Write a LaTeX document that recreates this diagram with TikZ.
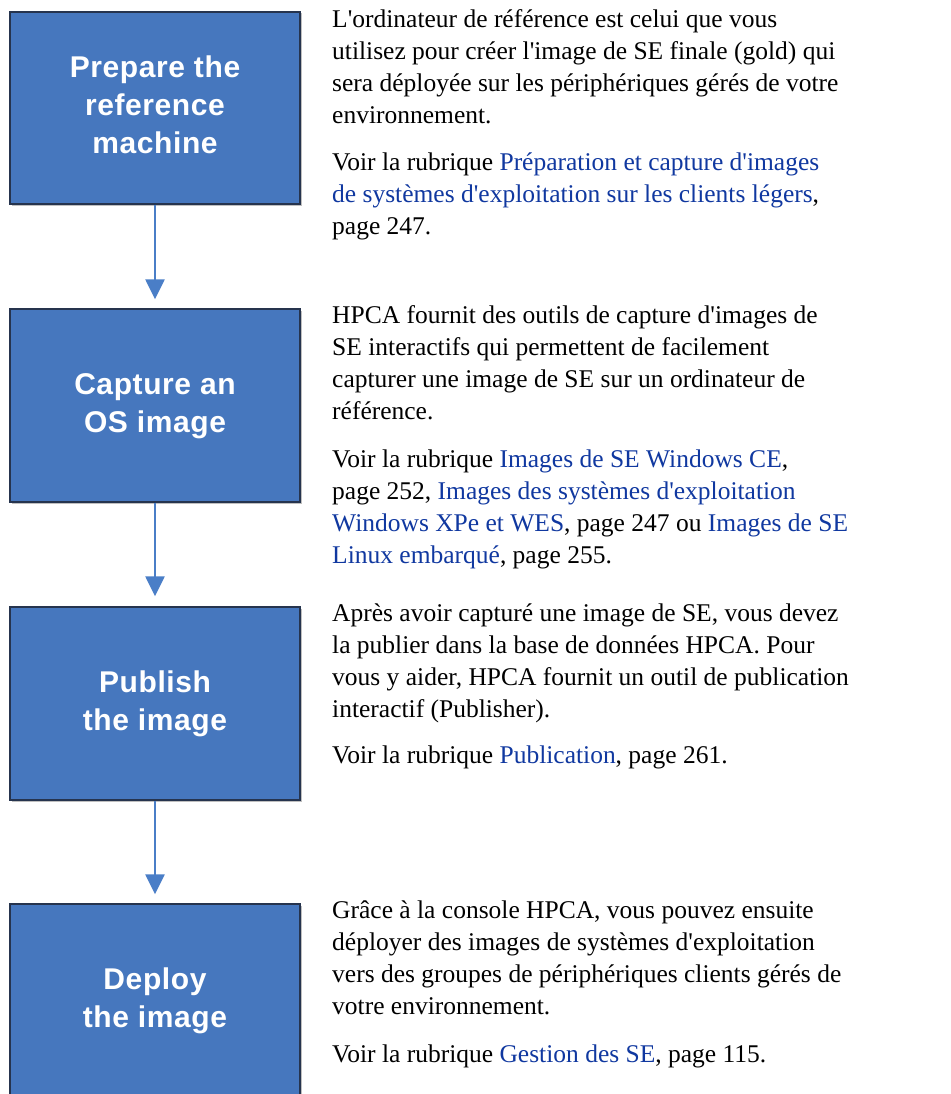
\documentclass[tikz,border=0pt]{standalone}
\usepackage{fontspec}
\setmainfont{Liberation Serif}
\newfontfamily\boxfont[LetterSpace=2]{Liberation Sans}
\usetikzlibrary{arrows.meta,shadows}
\definecolor{boxblue}{RGB}{70,119,190}
\definecolor{boxedge}{RGB}{38,52,78}
\definecolor{arrowblue}{RGB}{74,126,199}
\definecolor{linkblue}{RGB}{16,56,160}
\newcommand{\lnk}[1]{\textcolor{linkblue}{#1}}
\newcommand{\ap}{\textquotesingle}
\tikzset{
  x=1pt, y=-1pt,
  stepbox/.style={draw=boxedge, line width=1.4pt, fill=boxblue, minimum width=290pt,
    text=white, align=center, inner sep=0pt,
    font=\boxfont\bfseries\fontsize{30}{38}\selectfont,
    drop shadow={shadow xshift=1.5pt, shadow yshift=-1.5pt, fill=black, opacity=0.25}},
  flow/.style={draw=arrowblue, line width=2.5pt, -{Triangle[width=19pt,length=20pt]}},
  para/.style={anchor=north west, inner sep=0pt, align=left,
    font=\fontsize{25.5}{32}\selectfont}
}
\begin{document}
\begin{tikzpicture}
\useasboundingbox[fill=white] (0,0) rectangle (950,1094);
% boxes
\node[stepbox, minimum height=192pt] (b1) at (155,108)
  {\strut Prepare the\\\strut reference\\\strut machine};
\node[stepbox, minimum height=193pt] (b2) at (155,405.5)
  {\strut Capture an\\\strut OS image};
\node[stepbox, minimum height=193pt] (b3) at (155,703.5)
  {\strut Publish\\\strut the image};
\node[stepbox, minimum height=193pt] (b4) at (155,1000.5)
  {\strut Deploy\\\strut the image};
% arrows
\draw[flow, shorten >=9pt] (b1.south) -- (b2.north);
\draw[flow, shorten >=10pt] (b2.south) -- (b3.north);
\draw[flow, shorten >=9pt] (b3.south) -- (b4.north);
% texts
\node[para] (t1) at (332,4.6)
  {\strut L\ap ordinateur de référence est celui que vous\\
   \strut utilisez pour créer l\ap image de SE finale (gold) qui\\
   \strut sera déployée sur les périphériques gérés de votre\\
   \strut environnement.};
\node[para] (t2) at (332,147.6)
  {\strut Voir la rubrique \lnk{Préparation et capture d\ap images}\\
   \strut \lnk{de systèmes d\ap exploitation sur les clients légers},\\
   \strut page 247.};
\node[para] (t3) at (332,300.6)
  {\strut HPCA fournit des outils de capture d\ap images de\\
   \strut SE interactifs qui permettent de facilement\\
   \strut capturer une image de SE sur un ordinateur de\\
   \strut référence.};
\node[para] (t4) at (332,444.6)
  {\strut Voir la rubrique \lnk{Images de SE Windows CE},\\
   \strut page 252, \lnk{Images des systèmes d\ap exploitation}\\
   \strut \lnk{Windows XPe et WES}, page 247 ou \lnk{Images de SE}\\
   \strut \lnk{Linux embarqué}, page 255.};
\node[para] (t5) at (332,598.6)
  {\strut Après avoir capturé une image de SE, vous devez\\
   \strut la publier dans la base de données HPCA. Pour\\
   \strut vous y aider, HPCA fournit un outil de publication\\
   \strut interactif (Publisher).};
\node[para] (t6) at (332,740.6)
  {\strut Voir la rubrique \lnk{Publication}, page 261.};
\node[para] (t7) at (332,895.6)
  {\strut Grâce à la console HPCA, vous pouvez ensuite\\
   \strut déployer des images de systèmes d\ap exploitation\\
   \strut vers des groupes de périphériques clients gérés de\\
   \strut votre environnement.};
\node[para] (t8) at (332,1039.6)
  {\strut Voir la rubrique \lnk{Gestion des SE}, page 115.};
\end{tikzpicture}
\end{document}
